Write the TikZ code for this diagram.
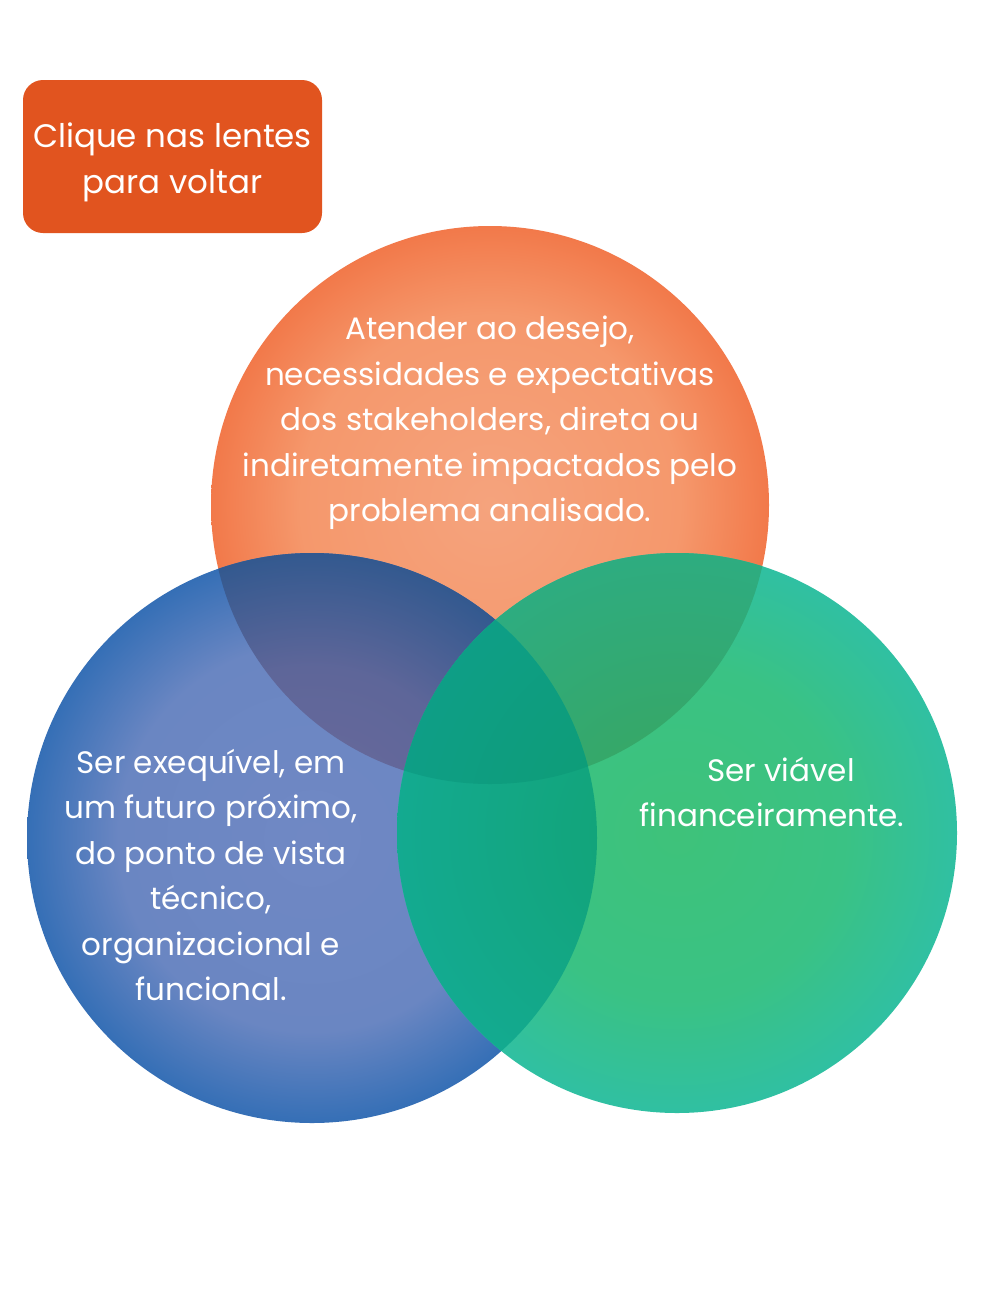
\documentclass[tikz,border=0pt]{standalone}
\usepackage{fontspec}
\setmainfont{Poppins}
\definecolor{btnfill}{HTML}{E1541F}
\definecolor{orin}{HTML}{F5A37D}
\definecolor{ormid}{HTML}{F5986C}
\definecolor{orout}{HTML}{F2794A}
\definecolor{blin}{HTML}{7088C4}
\definecolor{blmid}{HTML}{6A86C2}
\definecolor{blout}{HTML}{356FB6}
\definecolor{grin}{HTML}{3EC27A}
\definecolor{grmid}{HTML}{3AC284}
\definecolor{grout}{HTML}{30C0A2}
\definecolor{obin}{HTML}{6C6A9C}
\definecolor{obmid}{HTML}{5E6699}
\definecolor{obout}{HTML}{33598F}
\definecolor{ogin}{HTML}{3AA55C}
\definecolor{ogout}{HTML}{2EAC80}
\definecolor{bgin}{HTML}{12A272}
\definecolor{bgout}{HTML}{13AA90}
\definecolor{tin}{HTML}{0E9C70}
\definecolor{tout}{HTML}{0E9E86}
\pgfdeclareradialshading{orsh}{\pgfpoint{0bp}{0bp}}{color(0bp)=(orin); color(17bp)=(ormid); color(25bp)=(orout); color(50bp)=(orout)}
\pgfdeclareradialshading{blsh}{\pgfpoint{0bp}{0bp}}{color(0bp)=(blin); color(17bp)=(blmid); color(25bp)=(blout); color(50bp)=(blout)}
\pgfdeclareradialshading{grsh}{\pgfpoint{0bp}{0bp}}{color(0bp)=(grin); color(15bp)=(grmid); color(25bp)=(grout); color(50bp)=(grout)}
\pgfdeclareradialshading{obsh}{\pgfpoint{0bp}{0bp}}{color(0bp)=(obin); color(15bp)=(obmid); color(25bp)=(obout); color(50bp)=(obout)}
\pgfdeclareradialshading{ogsh}{\pgfpoint{0bp}{0bp}}{color(0bp)=(ogin); color(25bp)=(ogout); color(50bp)=(ogout)}
\pgfdeclareradialshading{bgsh}{\pgfpoint{0bp}{0bp}}{color(0bp)=(bgin); color(25bp)=(bgout); color(50bp)=(bgout)}
\pgfdeclareradialshading{tsh}{\pgfpoint{0bp}{0bp}}{color(0bp)=(tin); color(25bp)=(tout); color(50bp)=(tout)}
\begin{document}
\begin{tikzpicture}[x=1pt,y=-1pt,
  lenstext/.style={text=white, align=center, font=\fontsize{31}{45.5}\selectfont, inner sep=0pt},
  btntext/.style={text=white, align=center, font=\fontsize{32.5}{46}\selectfont, fill=btnfill, rounded corners=20pt, minimum width=299pt, minimum height=153pt, inner sep=0pt}]
\fill[white] (0,0) rectangle (995,1312);
\useasboundingbox (0,0) rectangle (995,1312);
\coordinate (oc) at (490,505);
\coordinate (bc) at (312,838);
\coordinate (gc) at (677,833);
\def\ro{279}\def\rb{285}\def\rg{280}
% base circles
\shade[shading=orsh] (oc) circle (\ro);
\shade[shading=blsh] (bc) circle (\rb);
\shade[shading=grsh] (gc) circle (\rg);
% overlaps
\begin{scope}
  \clip (oc) circle (\ro);
  \shade[shading=obsh] (bc) circle (\rb);
\end{scope}
\begin{scope}
  \clip (oc) circle (\ro);
  \shade[shading=ogsh] (gc) circle (\rg);
\end{scope}
\begin{scope}
  \clip (bc) circle (\rb);
  \shade[shading=bgsh] (gc) circle (\rg);
\end{scope}
\begin{scope}
  \clip (bc) circle (\rb);
  \clip (oc) circle (\ro);
  \shade[shading=tsh] (gc) circle (\rg);
\end{scope}
% texts
\node[btntext] (btn) at (172.5,156.5) {\parbox{299pt}{\centering\vspace*{12pt}Clique nas lentes\\para voltar}};
\node[lenstext, anchor=north] (ot) at (490,316) {Atender ao desejo,\\necessidades e expectativas\\dos stakeholders, direta ou\\indiretamente impactados pelo\\problema analisado.};
\node[lenstext, anchor=north] (bt) at (211,749) {Ser exequível, em\\um futuro próximo,\\do ponto de vista\\técnico,\\organizacional e\\funcional.};
\node[lenstext, anchor=north] (gt) at (772,757) {\hspace*{18pt}Ser viável\\financeiramente.};
\end{tikzpicture}
\end{document}
